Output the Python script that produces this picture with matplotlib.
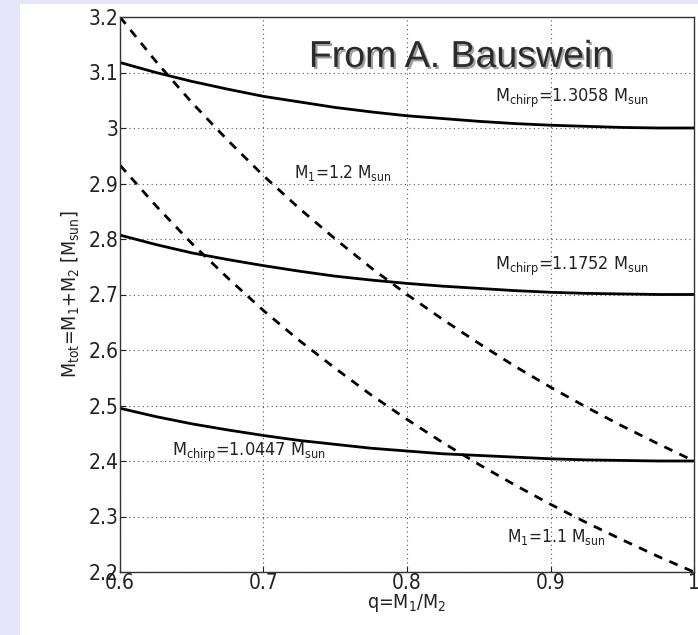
import numpy as np
import matplotlib
matplotlib.use('Agg')
import matplotlib.pyplot as plt
import matplotlib.patheffects as pe

plt.rcParams['font.family'] = ['Liberation Sans Narrow', 'DejaVu Sans']
plt.rcParams['font.stretch'] = 'condensed'
plt.rcParams['mathtext.default'] = 'regular'

# mass ratio q = M1/M2
q = [0.6, 0.625, 0.65, 0.675, 0.7, 0.725, 0.75, 0.775, 0.8,
     0.825, 0.85, 0.875, 0.9, 0.925, 0.95, 0.975, 1.0]

# total mass along lines of constant chirp mass
mtot_chirp_13058 = [3.118, 3.100, 3.084, 3.070, 3.057, 3.047, 3.037, 3.029, 3.022,
                    3.017, 3.012, 3.008, 3.005, 3.003, 3.001, 3.000, 3.000]
mtot_chirp_11752 = [2.807, 2.790, 2.775, 2.763, 2.752, 2.742, 2.733, 2.726, 2.720,
                    2.715, 2.711, 2.707, 2.704, 2.702, 2.701, 2.700, 2.700]
mtot_chirp_10447 = [2.495, 2.480, 2.467, 2.456, 2.446, 2.437, 2.430, 2.423, 2.418,
                    2.413, 2.410, 2.407, 2.404, 2.402, 2.401, 2.400, 2.400]

# total mass along lines of constant M1
mtot_m1_12 = [3.200, 3.120, 3.046, 2.978, 2.914, 2.855, 2.800, 2.748, 2.700,
              2.655, 2.612, 2.571, 2.533, 2.497, 2.463, 2.431, 2.400]
mtot_m1_11 = [2.933, 2.860, 2.792, 2.730, 2.671, 2.617, 2.567, 2.519, 2.475,
              2.433, 2.394, 2.357, 2.322, 2.289, 2.258, 2.228, 2.200]

xticks = [0.6, 0.7, 0.8, 0.9, 1.0]
xtick_labels = ['0.6', '0.7', '0.8', '0.9', '1']
yticks = [2.2, 2.3, 2.4, 2.5, 2.6, 2.7, 2.8, 2.9, 3.0, 3.1, 3.2]
ytick_labels = ['2.2', '2.3', '2.4', '2.5', '2.6', '2.7', '2.8', '2.9', '3', '3.1', '3.2']

fig = plt.figure(figsize=(6.98, 6.35), dpi=100, facecolor='#e6e6fa')
# white panel behind the plot
panel = plt.Rectangle((20/698, 0), 1, 1 - 4/635, transform=fig.transFigure,
                      facecolor='white', edgecolor='none', zorder=-10)
fig.add_artist(panel)

ax = fig.add_axes([120/698, 1 - 572/635, 574/698, 555/635])
ax.set_facecolor('white')

ax.plot(q, mtot_chirp_13058, color='black', lw=2.0)
ax.plot(q, mtot_chirp_11752, color='black', lw=2.0)
ax.plot(q, mtot_chirp_10447, color='black', lw=2.0)
ax.plot(q, mtot_m1_12, color='black', lw=2.0, dashes=(3.2, 2.8))
ax.plot(q, mtot_m1_11, color='black', lw=2.0, dashes=(3.2, 2.8))

ax.set_xlim(0.6, 1.0)
ax.set_ylim(2.2, 3.2)
ax.set_xticks(xticks)
ax.set_xticklabels(xtick_labels)
ax.set_yticks(yticks)
ax.set_yticklabels(ytick_labels)
ax.tick_params(direction='in', length=4, labelsize=15, colors='#222222', pad=1)
ax.grid(True, color='#555555', lw=0.8, linestyle=(0, (1, 3)))
for s in ax.spines.values():
    s.set_color('#333333')
    s.set_linewidth(1.0)

ax.set_xlabel(r'q=M$_1$/M$_2$', fontsize=14, labelpad=-1, color='#222222')
ax.set_ylabel(r'M$_{tot}$=M$_1$+M$_2$ [M$_{sun}$]', fontsize=14, labelpad=5, color='#222222')

ax.text(0.861, 3.047, r'M$_{chirp}$=1.3058 M$_{sun}$', fontsize=13, color='#222222')
ax.text(0.861, 2.744, r'M$_{chirp}$=1.1752 M$_{sun}$', fontsize=13, color='#222222')
ax.text(0.636, 2.409, r'M$_{chirp}$=1.0447 M$_{sun}$', fontsize=13, color='#222222')
ax.text(0.721, 2.910, r'M$_1$=1.2 M$_{sun}$', fontsize=12.5, color='#222222')
ax.text(0.870, 2.254, r'M$_1$=1.1 M$_{sun}$', fontsize=12.5, color='#222222')

ax.text(0.8376, 3.11, 'From A. Bauswein', fontsize=27, color='#2b2b2b',
        family=['Liberation Sans', 'DejaVu Sans'], stretch='normal',
        ha='center', va='baseline',
        path_effects=[pe.withSimplePatchShadow(offset=(1.5, -1.5),
                                                shadow_rgbFace='#888888', alpha=0.8)])

fig.savefig('out.png', dpi=100, facecolor=fig.get_facecolor())
